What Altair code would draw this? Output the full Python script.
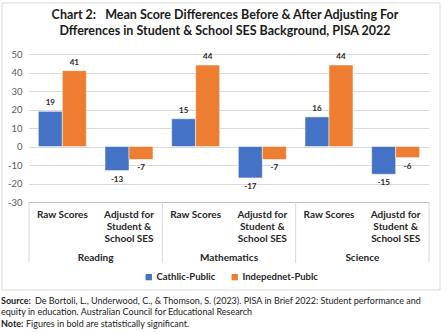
import altair as alt
import pandas as pd

groups = ["Reading", "Mathematics", "Science"]
subs = ["Raw Scores", "Adjustd for\nStudent &\nSchool SES"]
series = ["Cathlic-Public", "Indepednet-Publc"]
catholic = [19, -13, 15, -17, 16, -15]
independent = [41, -7, 44, -7, 44, -6]
title_lines = ["Chart 2:\u00a0\u00a0\u00a0Mean Score Differences Before & After Adjusting For",
               "Dfferences in Student & School SES Background, PISA 2022"]
source_lines = [("Source:", "De Bortoli, L., Underwood, C., & Thomson, S. (2023). PISA in Brief 2022: Student performance and"),
                ("", "equity in education. Australian Council for Educational Research"),
                ("Note:", "Figures in bold are statistically significant.")]

FONT = "Lato"
slots = [f"{g}|{s}" for g in groups for s in subs]
rows = []
for i, sl in enumerate(slots):
    rows.append({"slot": sl, "series": series[0], "value": catholic[i], "lab": str(catholic[i])})
    rows.append({"slot": sl, "series": series[1], "value": independent[i], "lab": str(independent[i])})
df = pd.DataFrame(rows)
sub_df = pd.DataFrame({"slot": slots, "label": [s for g in groups for s in subs]})
grp_df = pd.DataFrame({"g": [i + 0.5 for i in range(len(groups))], "label": groups})
sep_df = pd.DataFrame({"b": list(range(len(groups) + 1))})
one = pd.DataFrame({"k": [0]})

band = alt.Scale(type="band", domain=slots, paddingInner=0.28, paddingOuter=0.14)
xband = alt.X("slot:N", scale=band, axis=None)
yscale = alt.Scale(domain=[-30, 50], nice=False)
yaxis = alt.Axis(values=list(range(-30, 51, 10)), title=None, grid=True,
                 gridColor="#D9D9D9", domain=False, ticks=False,
                 labelColor="#595959", labelFontSize=9.5, labelFont=FONT,
                 labelPadding=7, labelExpr="'' + datum.value")
yq = alt.Y("value:Q", scale=yscale, axis=yaxis)
colors = alt.Scale(domain=series, range=["#4472C4", "#ED7D31"])
xoff = alt.XOffset("series:N", scale=alt.Scale(domain=series, paddingInner=0, paddingOuter=0))

bars = alt.Chart(df).mark_bar(stroke="white", strokeWidth=0.5).encode(
    x=xband, xOffset=xoff, y=yq,
    color=alt.Color("series:N", scale=colors,
                    legend=alt.Legend(title=None, orient="none", legendX=115, legendY=218,
                                      direction="horizontal", symbolType="square",
                                      symbolSize=40, symbolStrokeWidth=0,
                                      labelFont=FONT, labelFontSize=9.5,
                                      labelFontWeight="bold", labelColor="#262626",
                                      columnPadding=14, labelOffset=3)))

num_pos = alt.Chart(df).transform_filter("datum.value >= 0").mark_text(
    baseline="bottom", dy=-4, font=FONT, fontSize=8, fontWeight="bold", color="#262626").encode(
    x=xband, xOffset=xoff, y=yq, text="lab:N")
num_neg = alt.Chart(df).transform_filter("datum.value < 0").mark_text(
    baseline="top", dy=5, font=FONT, fontSize=8, fontWeight="bold", color="#262626").encode(
    x=xband, xOffset=xoff, y=yq, text="lab:N")

sub_text = alt.Chart(sub_df).mark_text(
    baseline="top", lineBreak="\n", lineHeight=12, font=FONT, fontSize=10,
    fontWeight="bold", color="#262626").encode(
    x=alt.X("slot:N", scale=band, axis=None), y=alt.value(156), text="label:N")

qx = alt.Scale(domain=[0, len(groups)], nice=False, zero=False)
grp_text = alt.Chart(grp_df).mark_text(
    baseline="middle", font=FONT, fontSize=10, fontWeight="bold", color="#262626").encode(
    x=alt.X("g:Q", scale=qx, axis=None), y=alt.value(204), text="label:N")
seps = alt.Chart(sep_df).mark_rule(color="#D9D9D9", strokeWidth=1).encode(
    x=alt.X("b:Q", scale=qx, axis=None), y=alt.value(148), y2=alt.value(209))
base_line = alt.Chart(one).mark_rule(color="#BFBFBF").encode(
    x=alt.value(0), x2=alt.value(400), y=alt.value(148.5))

title_layers = [
    alt.Chart(one).mark_text(font=FONT, fontSize=12.5, fontWeight="bold",
                             color="#1a1a1a", baseline="middle").encode(
        x=alt.value(196), y=alt.value(yy), text=alt.value(t))
    for t, yy in zip(title_lines, [-39, -23])
]

border = alt.Chart(one).mark_rect(fill=None, stroke="#D9D9D9", strokeWidth=1).encode(
    x=alt.value(-27), x2=alt.value(411), y=alt.value(-51), y2=alt.value(236))

src_layers = []
for i, (b, r) in enumerate(source_lines):
    yy = 246.5 + i * 11.5
    xr = -28 + (34 if b == "Source:" else 25 if b else 0)
    if b:
        src_layers.append(alt.Chart(one).mark_text(
            font=FONT, fontSize=9, fontWeight="bold", align="left", baseline="middle",
            color="#1a1a1a").encode(x=alt.value(-28), y=alt.value(yy), text=alt.value(b)))
    src_layers.append(alt.Chart(one).mark_text(
        font=FONT, fontSize=9, align="left", baseline="middle",
        color="#1a1a1a").encode(x=alt.value(xr), y=alt.value(yy), text=alt.value(r)))

chart = alt.layer(border, bars, num_pos, num_neg, sub_text, base_line, grp_text, seps,
                  *title_layers, *src_layers).resolve_scale(x="independent").properties(
    width=400, height=148, autosize="none",
    padding={"left": 29, "top": 54, "right": 18, "bottom": 130},
    background="white").configure_view(stroke=None)

chart.save("out.html", embed_options={"renderer": "svg", "actions": False})
